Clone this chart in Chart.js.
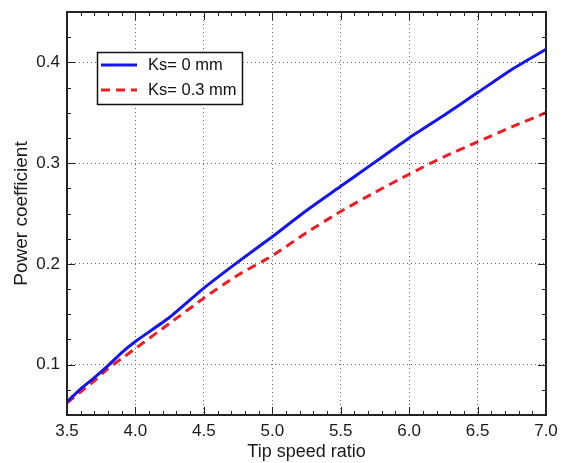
<!DOCTYPE html>
<html>
<head>
<meta charset="utf-8">
<script src="https://cdn.jsdelivr.net/npm/chart.js@4/dist/chart.umd.min.js"></script>
<style>
  html, body { margin: 0; padding: 0; background: #ffffff; }
  #wrap { width: 566px; height: 463px; position: relative; }
</style>
</head>
<body>
<div id="wrap"><canvas id="c" width="566" height="463"></canvas></div>
<script>
// ---- data ----
const tipSpeedRatio = [3.5, 3.6, 3.7, 3.8, 3.9, 4.0, 4.25, 4.5, 4.75, 5.0, 5.25, 5.5, 5.75, 6.0, 6.25, 6.5, 6.75, 7.0];
const cpKs0   = [0.063, 0.076, 0.087, 0.099, 0.112, 0.123, 0.147, 0.176, 0.202, 0.227, 0.253, 0.277, 0.301, 0.325, 0.347, 0.370, 0.393, 0.413];
const cpKs03  = [0.062, 0.073, 0.084, 0.096, 0.106, 0.116, 0.141, 0.166, 0.189, 0.208, 0.231, 0.252, 0.271, 0.289, 0.306, 0.321, 0.336, 0.350];
const seriesLabels = ["Ks= 0 mm", "Ks= 0.3 mm"];
const xTickValues = [3.5, 4.0, 4.5, 5.0, 5.5, 6.0, 6.5, 7.0];
const yTickValues = [0.1, 0.2, 0.3, 0.4];
const xTitle = "Tip speed ratio";
const yTitle = "Power coefficient";

const FONT = "'Liberation Sans', Arial, sans-serif";

function pts(xs, ys) { return xs.map((x, i) => ({ x: x, y: ys[i] })); }

// frame, inner ticks and legend box
const framePlugin = {
  id: 'frame',
  afterDatasetsDraw(chart) {
    const ctx = chart.ctx, a = chart.chartArea;
    const xs = chart.scales.x, ys = chart.scales.y;
    ctx.save();
    ctx.strokeStyle = '#222';
    ctx.lineWidth = 1;
    // x ticks (major 0.5, minor 0.1)
    for (let k = 35; k <= 70; k++) {
      const v = k / 10;
      const px = Math.round(xs.getPixelForValue(v)) + 0.5;
      const len = (k % 5 === 0) ? 8 : 4;
      ctx.beginPath();
      ctx.moveTo(px, a.bottom); ctx.lineTo(px, a.bottom - len);
      ctx.moveTo(px, a.top); ctx.lineTo(px, a.top + len);
      ctx.stroke();
    }
    // y ticks (major 0.1, minor 0.025)
    for (let k = 2; k <= 18; k++) {
      const v = k * 0.025;
      const py = Math.round(ys.getPixelForValue(v)) + 0.5;
      const len = (k % 4 === 0) ? 8 : 4;
      ctx.beginPath();
      ctx.moveTo(a.left, py); ctx.lineTo(a.left + len, py);
      ctx.moveTo(a.right, py); ctx.lineTo(a.right - len, py);
      ctx.stroke();
    }
    // frame
    ctx.lineWidth = 2;
    ctx.strokeStyle = '#222';
    ctx.strokeRect(a.left, a.top, a.right - a.left, a.bottom - a.top);

    // legend
    const bx = 97.5, by = 52.5, bw = 145, bh = 52;
    ctx.fillStyle = '#ffffff';
    ctx.fillRect(bx, by, bw, bh);
    ctx.lineWidth = 1.5;
    ctx.strokeStyle = '#111';
    ctx.strokeRect(bx, by, bw, bh);
    const rows = [65, 90];
    chart.data.datasets.forEach((ds, i) => {
      const yy = rows[i];
      ctx.beginPath();
      ctx.lineWidth = 3;
      ctx.strokeStyle = ds.borderColor;
      ctx.setLineDash(ds.borderDash || []);
      ctx.moveTo(101, yy); ctx.lineTo(137, yy);
      ctx.stroke();
      ctx.setLineDash([]);
      ctx.fillStyle = '#111';
      ctx.font = '16.5px ' + FONT;
      ctx.textBaseline = 'middle';
      ctx.textAlign = 'left';
      ctx.fillText(ds.label, 148, yy);
    });
    ctx.restore();
  }
};

new Chart(document.getElementById('c'), {
  type: 'line',
  data: {
    datasets: [
      {
        label: seriesLabels[0],
        data: pts(tipSpeedRatio, cpKs0),
        borderColor: '#1414f0',
        borderWidth: 3,
        pointRadius: 0,
        tension: 0.2,
        fill: false
      },
      {
        label: seriesLabels[1],
        data: pts(tipSpeedRatio, cpKs03),
        borderColor: '#ee1c24',
        borderWidth: 3,
        borderDash: [9, 6],
        pointRadius: 0,
        tension: 0.2,
        fill: false
      }
    ]
  },
  options: {
    responsive: false,
    animation: false,
    devicePixelRatio: 1,
    layout: { padding: { top: 12, right: 20, left: 0, bottom: 0 } },
    plugins: { legend: { display: false }, tooltip: { enabled: false } },
    scales: {
      x: {
        type: 'linear',
        min: 3.5, max: 7.0,
        afterBuildTicks(s) { s.ticks = xTickValues.map(v => ({ value: v })); },
        afterFit(s) { s.height = 48; s.paddingLeft = 0; s.paddingRight = 0; },
        grid: { color: '#666', lineWidth: 1, drawTicks: false },
        border: { display: false, dash: [1, 3] },
        ticks: {
          padding: 6,
          color: '#1a1a1a',
          font: { family: FONT, size: 17 },
          maxRotation: 0,
          callback: v => Number(v).toFixed(1)
        },
        title: {
          display: true,
          text: xTitle,
          color: '#1a1a1a',
          font: { family: FONT, size: 18 },
          padding: { top: 0, bottom: 0 }
        }
      },
      y: {
        type: 'linear',
        min: 0.05, max: 0.45,
        afterBuildTicks(s) { s.ticks = yTickValues.map(v => ({ value: v })); },
        afterFit(s) { s.width = 67; s.paddingTop = 0; s.paddingBottom = 0; },
        grid: { color: '#666', lineWidth: 1, drawTicks: false },
        border: { display: false, dash: [1, 3] },
        ticks: {
          padding: 7,
          color: '#1a1a1a',
          font: { family: FONT, size: 17 },
          callback: v => Number(v).toFixed(1)
        },
        title: {
          display: true,
          text: yTitle,
          color: '#1a1a1a',
          font: { family: FONT, size: 19 },
          padding: { top: 10, bottom: 0 }
        }
      }
    }
  },
  plugins: [framePlugin]
});
</script>
</body>
</html>
